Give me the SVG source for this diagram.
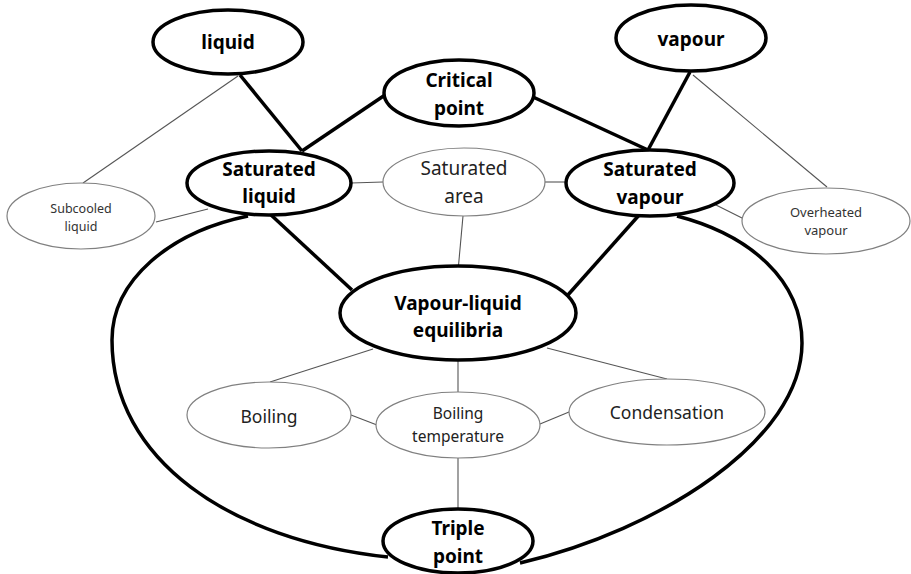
<svg xmlns="http://www.w3.org/2000/svg" width="911" height="574" viewBox="0 0 911 574">
<style>
.thick{fill:#fff;stroke:#000;stroke-width:3.5}
.thin{fill:#fff;stroke:#808080;stroke-width:1.2}
.b{font-family:"Noto Sans","Liberation Sans",sans-serif;font-weight:bold;font-size:19px;fill:#000;text-anchor:middle}
.n{font-family:"Noto Sans","Liberation Sans",sans-serif;font-size:17.5px;fill:#222;text-anchor:middle}
.s{font-family:"Noto Sans","Liberation Sans",sans-serif;font-size:12.5px;fill:#333;text-anchor:middle}
.tk{stroke:#000;stroke-width:3.5;fill:none}
.tn{stroke:#555;stroke-width:1.1;fill:none}
</style>
<rect width="911" height="574" fill="#fff"/>
<g id="connectors">
<path class="tk" d="M248,216 C170,232 112,280 112,340 C112,460 230,540 388,557"/>
<path class="tk" d="M677,216 C750,235 802,280 802,343 C802,440 660,530 520,563"/>
<line class="tk" x1="240" y1="75" x2="302" y2="151"/>
<line class="tk" x1="385" y1="95" x2="302" y2="151"/>
<line class="tk" x1="533" y1="97" x2="648" y2="150"/>
<line class="tk" x1="690" y1="72" x2="648" y2="150"/>
<line class="tk" x1="270" y1="214" x2="352" y2="290"/>
<line class="tk" x1="640" y1="214" x2="567" y2="296"/>
<line class="tn" x1="238" y1="76" x2="83" y2="183"/>
<line class="tn" x1="156" y1="222" x2="208" y2="209"/>
<line class="tn" x1="351" y1="183" x2="383" y2="182"/>
<line class="tn" x1="534" y1="182" x2="566" y2="182"/>
<line class="tn" x1="693" y1="75" x2="827" y2="187"/>
<line class="tn" x1="710" y1="202" x2="742" y2="218"/>
<line class="tn" x1="463" y1="216" x2="458" y2="271"/>
<line class="tn" x1="373" y1="349" x2="270" y2="382"/>
<line class="tn" x1="547" y1="348" x2="667" y2="379"/>
<line class="tn" x1="458" y1="360" x2="458" y2="392"/>
<line class="tn" x1="351" y1="415" x2="377" y2="425"/>
<line class="tn" x1="540" y1="424" x2="569" y2="412"/>
<line class="tn" x1="458" y1="458" x2="458" y2="508"/>
</g>
<g id="liquid"><ellipse class="thick" cx="228" cy="42" rx="75" ry="32"/><text class="b" x="228" y="49">liquid</text></g>
<g id="critical-point"><ellipse class="thick" cx="459" cy="93" rx="75" ry="33"/><text class="b" x="459" y="87">Critical</text><text class="b" x="459" y="115">point</text></g>
<g id="vapour"><ellipse class="thick" cx="691" cy="38" rx="75" ry="33"/><text class="b" x="691" y="46">vapour</text></g>
<g id="saturated-liquid"><ellipse class="thick" cx="269" cy="183" rx="82" ry="32"/><text class="b" x="269" y="176">Saturated</text><text class="b" x="269" y="203">liquid</text></g>
<g id="saturated-area"><ellipse class="thin" cx="464" cy="182" rx="81" ry="34"/><text class="n" x="464" y="175" style="font-size:19px">Saturated</text><text class="n" x="464" y="203" style="font-size:19px">area</text></g>
<g id="saturated-vapour"><ellipse class="thick" cx="650" cy="183" rx="84" ry="33"/><text class="b" x="650" y="176">Saturated</text><text class="b" x="650" y="204">vapour</text></g>
<g id="subcooled-liquid"><ellipse class="thin" cx="81" cy="216" rx="74" ry="33"/><text class="s" x="81" y="213">Subcooled</text><text class="s" x="81" y="231">liquid</text></g>
<g id="overheated-vapour"><ellipse class="thin" cx="826" cy="221" rx="84" ry="33"/><text class="s" x="826" y="217" style="font-size:13px">Overheated</text><text class="s" x="826" y="235" style="font-size:13px">vapour</text></g>
<g id="vapour-liquid-equilibria"><ellipse class="thick" cx="458" cy="313" rx="118" ry="47"/><text class="b" x="458" y="310">Vapour-liquid</text><text class="b" x="458" y="337">equilibria</text></g>
<g id="boiling"><ellipse class="thin" cx="269" cy="415" rx="82" ry="33"/><text class="n" x="269" y="423">Boiling</text></g>
<g id="boiling-temperature"><ellipse class="thin" cx="458" cy="425" rx="82" ry="33"/><text class="n" x="458" y="419" style="font-size:15.5px">Boiling</text><text class="n" x="458" y="442" style="font-size:15.5px">temperature</text></g>
<g id="condensation"><ellipse class="thin" cx="667" cy="412" rx="98" ry="33"/><text class="n" x="667" y="419">Condensation</text></g>
<g id="triple-point"><ellipse class="thick" cx="458" cy="541" rx="75" ry="32"/><text class="b" x="458" y="535">Triple</text><text class="b" x="458" y="563">point</text></g>
</svg>
